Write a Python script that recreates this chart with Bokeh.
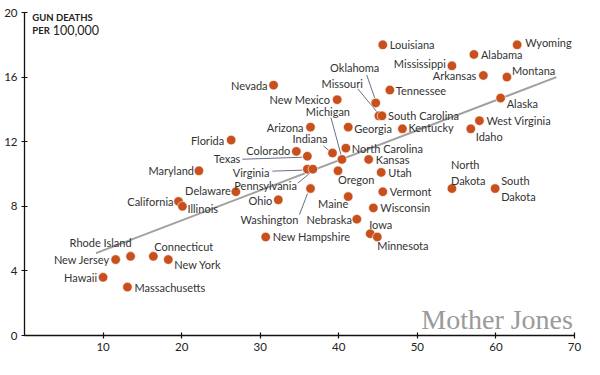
from bokeh.plotting import figure
from bokeh.models import ColumnDataSource, FixedTicker, Label, Range1d
from bokeh.core.properties import value
from bokeh.embed import file_html
from bokeh.resources import INLINE

# ---------------- data ----------------
states = ["Wyoming", "Alabama", "Mississippi", "Arkansas", "Montana", "Alaska",
          "Louisiana", "Nevada", "New Mexico", "Oklahoma", "Missouri", "Tennessee",
          "South Carolina", "Kentucky", "West Virginia", "Idaho", "North Dakota",
          "South Dakota", "Arizona", "Georgia", "Michigan", "Indiana",
          "North Carolina", "Colorado", "Texas", "Virginia", "Pennsylvania",
          "Kansas", "Oregon", "Utah", "Washington", "Maine", "Ohio", "Vermont",
          "Wisconsin", "Nebraska", "Iowa", "Minnesota", "New Hampshire",
          "Delaware", "Florida", "Maryland", "California", "Illinois",
          "New Jersey", "Rhode Island", "Connecticut", "New York", "Hawaii",
          "Massachusetts"]
gun_ownership = [62.7, 57.2, 54.4, 58.4, 61.4, 60.6,
                 45.6, 31.7, 39.8, 44.7, 45.1, 46.5,
                 45.5, 48.1, 57.9, 56.8, 54.4,
                 59.9, 36.4, 41.2, 40.4, 39.2,
                 40.9, 34.6, 36.0, 36.0, 36.7,
                 43.8, 39.9, 45.4, 36.4, 41.2, 32.3, 45.6,
                 44.4, 42.3, 44.0, 44.9, 30.7,
                 26.9, 26.3, 22.2, 19.6, 20.1,
                 11.6, 13.5, 16.4, 18.3, 10.0,
                 13.1]
gun_deaths = [18.0, 17.4, 16.7, 16.1, 16.0, 14.7,
              18.0, 15.5, 14.6, 14.4, 13.6, 15.2,
              13.6, 12.8, 13.3, 12.8, 9.1,
              9.1, 12.9, 12.9, 10.9, 11.3,
              11.6, 11.4, 11.1, 10.3, 10.3,
              10.9, 10.2, 10.1, 9.1, 8.6, 8.4, 8.9,
              7.9, 7.2, 6.3, 6.1, 6.1,
              8.9, 12.1, 10.2, 8.3, 8.0,
              4.7, 4.9, 4.9, 4.7, 3.6,
              3.0]
trend_x = [9.1, 67.7]
trend_y = [5.1, 16.0]
x_ticks = [10, 20, 30, 40, 50, 60, 70]
y_ticks = [0, 4, 8, 12, 16, 20]

# ---------------- label layout (pixel offsets, screen y down) ----------------
label_pos = {
    "Wyoming": ("left", 8, -2), "Alabama": ("left", 7, 0),
    "Mississippi": ("right", -6, -2), "Arkansas": ("right", -7, 0),
    "Montana": ("left", 5, -7), "Alaska": ("left", 6, 5),
    "Louisiana": ("left", 7, 0), "Nevada": ("right", -6, 0),
    "New Mexico": ("right", -7, 0), "Oklahoma": ("center", -21, -35),
    "Missouri": ("right", -16, -32), "Tennessee": ("left", 6, 0),
    "South Carolina": ("left", 6, 0), "Kentucky": ("left", 6, -1),
    "West Virginia": ("left", 7, 0), "Idaho": ("left", 5, 8),
    "North Dakota": ("left", -1, -16), "South Dakota": ("left", 6, 0),
    "Arizona": ("right", -7, 0), "Georgia": ("left", 6, 1),
    "Michigan": ("center", -14, -48), "Indiana": ("right", -5, -15),
    "North Carolina": ("left", 6, 0), "Colorado": ("right", -6, -1),
    "Texas": ("right", -67, 2), "Virginia": ("right", -38, 3),
    "Pennsylvania": ("right", -16, 16), "Kansas": ("left", 7, 0),
    "Oregon": ("left", 0, 9), "Utah": ("left", 7, 0),
    "Washington": ("right", -12, 31), "Maine": ("right", 0, 7),
    "Ohio": ("right", -6, 1), "Vermont": ("left", 7, 0),
    "Wisconsin": ("left", 7, 0), "Nebraska": ("right", -5, 0),
    "Iowa": ("left", -1, -9), "Minnesota": ("left", 0, 9),
    "New Hampshire": ("left", 7, 0), "Delaware": ("right", -5, -1),
    "Florida": ("right", -7, 0), "Maryland": ("right", -5, 0),
    "California": ("right", -5, 0), "Illinois": ("left", 5, 2),
    "New Jersey": ("right", -6, 0), "Rhode Island": ("center", -30, -14),
    "Connecticut": ("left", 1, -10), "New York": ("left", 6, 5),
    "Hawaii": ("right", -6, 0), "Massachusetts": ("left", 7, 0),
}
leaders = {
    "Oklahoma": (-1, -5, -9, -28), "Missouri": (-2, -4, -21, -27),
    "Michigan": (-1, -5, -11, -42), "Indiana": (-3, -2, -9, -7),
    "Texas": (-5, 1, -65, 3), "Virginia": (-5, 1, -35, 2),
    "Pennsylvania": (-3, 4, -15, 14), "Washington": (-3, 5, -11, 26),
}
multiline = {"North Dakota": "North\nDakota", "South Dakota": "South\nDakota"}

W, H = 584, 359
ML, MR, MT, MB = 24, 10, 12, 24
X0, X1, Y0, Y1 = 0, 70, 0, 20
XS = (W - ML - MR) / (X1 - X0)
YS = (H - MT - MB) / (Y1 - Y0)

FONT = "Lato"
TXT = "#333333"
DOT = "#c8501c"

p = figure(width=W, height=H, output_backend="svg", toolbar_location=None,
           x_range=Range1d(X0, X1), y_range=Range1d(Y0, Y1),
           min_border_left=ML, min_border_right=MR, min_border_top=MT,
           min_border_bottom=MB, background_fill_color="white",
           border_fill_color="white")
p.outline_line_color = None
p.grid.visible = False

for ax in (p.xaxis[0], p.yaxis[0]):
    ax.axis_line_color = "#111111"
    ax.axis_line_width = 1.3
    ax.major_tick_line_color = "#111111"
    ax.major_tick_line_width = 1.2
    ax.major_tick_in = 3
    ax.major_tick_out = 3
    ax.minor_tick_line_color = None
    ax.major_label_text_font = FONT
    ax.major_label_text_font_size = "11.5px"
    ax.major_label_text_color = "#222222"
    ax.major_label_standoff = 4
p.xaxis.ticker = FixedTicker(ticks=x_ticks)
p.yaxis.ticker = FixedTicker(ticks=y_ticks)

# trend line
p.line(trend_x, trend_y, line_color="#a0a0a0", line_width=2)

# leader lines
lx0, ly0, lx1, ly1 = [], [], [], []
for s, (ax_, ay_, bx_, by_) in leaders.items():
    i = states.index(s)
    x, y = gun_ownership[i], gun_deaths[i]
    lx0.append(x + ax_ / XS); ly0.append(y - ay_ / YS)
    lx1.append(x + bx_ / XS); ly1.append(y - by_ / YS)
p.segment(lx0, ly0, lx1, ly1, line_color="#55607a", line_width=0.9)

# dots
p.scatter(gun_ownership, gun_deaths, size=9.5, fill_color=DOT,
          line_color="white", line_width=0.6)

# labels grouped by alignment
for align in ("left", "right", "center"):
    d = dict(x=[], y=[], t=[], dx=[], dy=[])
    for i, s in enumerate(states):
        a, dx, dy = label_pos[s]
        if a != align:
            continue
        d["x"].append(gun_ownership[i]); d["y"].append(gun_deaths[i])
        d["t"].append(multiline.get(s, s)); d["dx"].append(dx); d["dy"].append(dy)
    p.text(x="x", y="y", text="t", x_offset="dx", y_offset="dy",
           source=ColumnDataSource(d), text_align=align, text_baseline="middle",
           text_font=value(FONT), text_font_size="11px", text_color=TXT,
           text_line_height=1.2)

# axis title (upper left)
p.add_layout(Label(x=1.0, y=19.72, text="GUN DEATHS", text_font=FONT,
                   text_font_size="9.5px", text_font_style="bold",
                   text_color="#222222", text_baseline="middle"))
p.add_layout(Label(x=1.0, y=18.9, text="PER", text_font=FONT,
                   text_font_size="9.5px", text_font_style="bold",
                   text_color="#222222", text_baseline="middle"))
p.add_layout(Label(x=3.6, y=18.9, text="100,000", text_font=FONT,
                   text_font_size="12.5px", text_color="#222222",
                   text_baseline="middle"))

# logo
p.add_layout(Label(x=69.8, y=1.0, text="Mother Jones", text_font="Liberation Serif",
                   text_font_size="28px", text_color="#9a9a9a",
                   text_align="right", text_baseline="alphabetic"))

open("out.html", "w").write(file_html(p, INLINE))
